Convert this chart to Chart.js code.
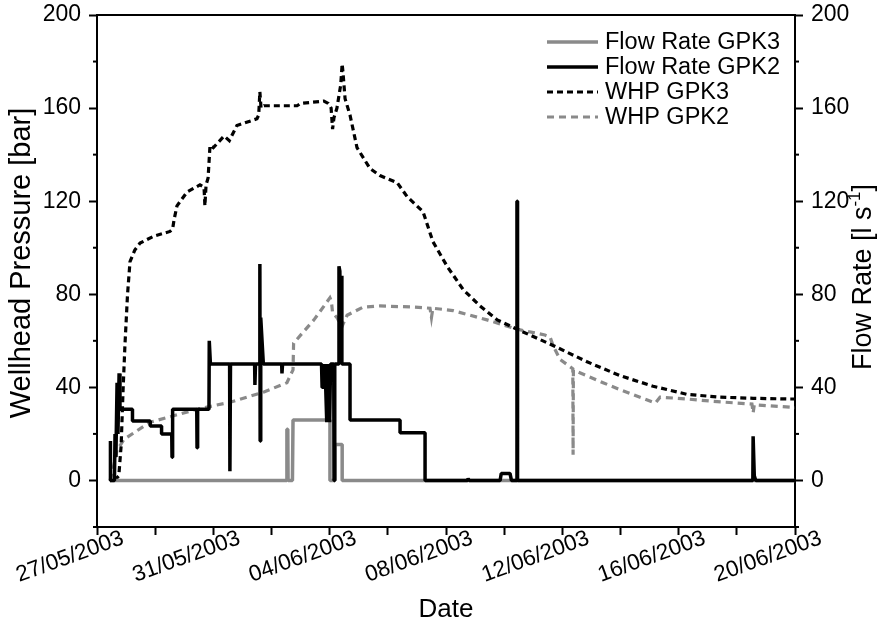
<!DOCTYPE html>
<html><head><meta charset="utf-8">
<script src="https://cdn.jsdelivr.net/npm/chart.js@4.4.1/dist/chart.umd.min.js"></script>
<style>html,body{margin:0;padding:0;background:#fff}#wrap{width:883px;height:630px;position:relative}</style>
</head><body><div id="wrap"><canvas id="c"></canvas></div>
<script>
// x in days since 27/05/2003 00:00
const xTickLabels = ['27/05/2003','31/05/2003','04/06/2003','08/06/2003','12/06/2003','16/06/2003','20/06/2003'];
const yTickValues = [0,40,80,120,160,200];
const legendLabels = ['Flow Rate GPK3','Flow Rate GPK2','WHP GPK3','WHP GPK2'];

const flowGPK3 = [[0.447,0],[6.53,0],[6.53,22],[6.56,22],[6.57,0],[6.72,0],[6.74,26],[8.01,26],[8.01,0],[8.18,0],[8.18,15.5],[8.43,15.5],[8.43,0],[24,0]];

const flowGPK2 = [[0.447,0],[0.447,17],[0.47,17],[0.47,0],[0.60,0],[0.62,20],[0.65,10],[0.69,42],[0.72,20],[0.76,46],[0.79,30.6],
 [1.22,30.6],[1.22,25.5],[1.83,25.5],[1.83,23.4],[2.22,23.4],[2.22,20],[2.57,20],[2.58,10],[2.60,30.6],
 [3.43,30.6],[3.44,14],[3.46,30.6],[3.85,30.6],[3.86,60],[3.88,60],[3.90,50],[4.56,50],[4.57,4],[4.59,50],
 [5.42,50],[5.43,41],[5.45,50],[5.59,50],[5.60,93],[5.61,17],[5.63,70],[5.72,50],[6.35,50],[6.36,46],[6.38,50],
 [7.72,50],[7.74,40],[7.77,50],[7.80,40],[7.84,50],[7.90,25],[7.93,50],[8.00,25],[8.03,50],[8.14,50],[8.15,0],[8.17,0],[8.18,50],
 [8.30,50],[8.32,92],[8.35,90],[8.38,60],[8.40,88],[8.42,50],[8.70,50],[8.70,26],[10.42,26],[10.42,20.5],[11.28,20.5],[11.28,0],
 [12.74,0],[12.76,0.8],[12.80,0],[13.86,0],[13.90,3],[14.20,3],[14.25,0],[14.44,0],[14.44,120],[14.46,120],[14.46,0],
 [22.55,0],[22.56,19],[22.58,19],[22.60,2],[22.65,0],[24,0]];

const whpGPK3 = [[0.60,0],[0.75,2],[0.83,15],[0.90,40],[0.96,58],[1.05,80],[1.135,94],[1.30,99],[1.48,102],[1.96,105],[2.51,107],
 [2.60,108],[2.65,112],[2.75,118],[3.10,124],[3.54,127],[3.68,126],[3.71,118],[3.75,127],[3.82,130],[3.886,144],[4.00,143],
 [4.37,148],[4.55,146],[4.81,152.5],[5.50,155.4],[5.56,157],[5.60,167],[5.64,160],[5.74,161],[6.88,161],[7.00,162],[7.80,163],
 [7.95,162],[8.05,160],[8.10,151],[8.15,156],[8.25,160],[8.38,170],[8.43,179],[8.46,175],[8.53,164],[8.70,157],[8.94,143],
 [9.39,134],[9.73,131],[10.32,128],[10.66,122],[11.21,115.5],[11.55,102.6],[12.04,92],[12.59,82],[13.17,75],[13.76,69],
 [14.44,65],[15.68,58],[16.85,51],[17.99,45],[19.12,40.5],[20.29,37],[21.42,35.8],[22.56,35.3],[23.83,35],[24,35]];

const whpGPK2 = [[0.45,0],[0.55,5],[0.69,13],[0.93,17.7],[1.82,25],[3.44,30.6],[4.57,33.6],[5.74,38],[6.53,42],[6.70,46.5],
 [6.74,47.5],[6.76,59],[7.46,69],[8.01,78.5],[8.06,77],[8.10,72],[8.25,70],[8.42,66],[8.60,71],[9.15,74.5],[9.73,75],
 [10.87,74.5],[11.45,74],[11.50,70],[11.55,74],[12.24,73],[13.41,69],[14.44,65],[15.40,62.5],[15.58,61.6],[15.68,58],
 [15.92,52],[16.36,48],[16.37,11],[16.38,47.5],[17.40,42],[17.99,39],[19.12,33.6],[19.20,33.3],[19.36,35.8],[20.29,35],
 [21.18,34],[22.52,32.8],[22.56,29],[22.60,32.5],[23.83,31.5],[24,31.3]];

const FONT = "'Liberation Sans', Arial, sans-serif";
const GREY = '#8a8a8a';
const toPts = a => a.map(p => ({x: p[0], y: p[1]}));

const extras = {
  id: 'extras',
  afterDraw(chart) {
    const {ctx, chartArea: a, scales} = chart;
    ctx.save();
    ctx.strokeStyle = '#000'; ctx.lineWidth = 2;
    ctx.beginPath(); ctx.moveTo(a.left - 1, a.top); ctx.lineTo(a.right + 1, a.top); ctx.stroke();
    ['y', 'y2'].forEach(id => {
      const s = scales[id];
      s.ticks.forEach(t => {
        if (t.value % 40 !== 0) {
          const py = s.getPixelForValue(t.value);
          ctx.beginPath();
          if (id === 'y') { ctx.moveTo(a.left, py); ctx.lineTo(a.left - 4, py); }
          else { ctx.moveTo(a.right, py); ctx.lineTo(a.right + 4, py); }
          ctx.stroke();
        }
      });
    });
    // right axis title, reading bottom to top, with superscript
    ctx.fillStyle = '#000';
    ctx.translate(861, 277);
    ctx.rotate(-Math.PI / 2);
    const mainF = '27px ' + FONT, supF = '17px ' + FONT;
    ctx.font = mainF; const p1 = 'Flow Rate [l s', p3 = ']';
    const w1 = ctx.measureText(p1).width, w3 = ctx.measureText(p3).width;
    ctx.font = supF; const p2 = '-1'; const w2 = ctx.measureText(p2).width;
    let sx = -(w1 + w2 + w3) / 2; const base = 9.5;
    ctx.textBaseline = 'alphabetic'; ctx.textAlign = 'left';
    ctx.font = mainF; ctx.fillText(p1, sx, base); sx += w1;
    ctx.font = supF; ctx.fillText(p2, sx, base - 11); sx += w2;
    ctx.font = mainF; ctx.fillText(p3, sx, base);
    ctx.setTransform(1, 0, 0, 1, 0, 0);
    // legend
    const rows = [42, 67, 92, 117];
    const order = [1, 0, 2, 3];
    ctx.font = '23.5px ' + FONT; ctx.textBaseline = 'middle';
    order.forEach((di, r) => {
      const ds = chart.data.datasets[di];
      ctx.strokeStyle = ds.borderColor; ctx.lineWidth = ds.borderWidth;
      ctx.setLineDash(ds.borderDash || []);
      ctx.beginPath(); ctx.moveTo(547, rows[r]); ctx.lineTo(598, rows[r]); ctx.stroke();
      ctx.setLineDash([]);
      ctx.fillStyle = '#000';
      ctx.fillText(legendLabels[r], 605, rows[r] + 1);
    });
    ctx.restore();
  }
};

const yAxisCommon = (pos, w) => ({
  type: 'linear', position: pos, min: -20, max: 200,
  afterFit(s) { s.width = w; s.paddingTop = 0; s.paddingBottom = 0; },
  ticks: {stepSize: 20, autoSkip: false, padding: 8, color: '#000', font: {family: FONT, size: 23},
    callback: v => yTickValues.includes(v) ? String(v) : ''},
  grid: {drawOnChartArea: false, drawTicks: true, tickLength: 8, tickWidth: 2,
    tickColor: c => (c.tick && c.tick.value % 40 === 0) ? '#000' : 'rgba(0,0,0,0)'},
  border: {display: true, color: '#000', width: 2}
});

const yLeft = yAxisCommon('left', 97);
yLeft.title = {display: true, text: '  Wellhead Pressure [bar]', color: '#000', font: {family: FONT, size: 29}, padding: {top: 5, bottom: 0}};
const yRight = yAxisCommon('right', 88);

new Chart(document.getElementById('c'), {
  type: 'line',
  data: {
    datasets: [
      {label: 'Flow Rate GPK2', data: toPts(flowGPK2), yAxisID: 'y2', borderColor: '#000', borderWidth: 3.5, pointRadius: 0, tension: 0, borderJoinStyle: 'bevel', fill: false},
      {label: 'Flow Rate GPK3', data: toPts(flowGPK3), yAxisID: 'y2', borderColor: GREY, borderWidth: 3.5, pointRadius: 0, tension: 0, borderJoinStyle: 'bevel', fill: false},
      {label: 'WHP GPK3', data: toPts(whpGPK3), yAxisID: 'y', borderColor: '#000', borderWidth: 3.2, borderDash: [6, 4], pointRadius: 0, tension: 0, fill: false},
      {label: 'WHP GPK2', data: toPts(whpGPK2), yAxisID: 'y', borderColor: GREY, borderWidth: 3.2, borderDash: [7, 5], pointRadius: 0, tension: 0, fill: false}
    ]
  },
  options: {
    responsive: true, maintainAspectRatio: false, animation: false, devicePixelRatio: 1,
    layout: {padding: {top: 15, left: 0, right: 0, bottom: 0}},
    plugins: {legend: {display: false}, tooltip: {enabled: false}},
    events: [],
    scales: {
      x: {
        type: 'linear', min: 0, max: 24,
        afterFit(s) { s.height = 103; s.paddingLeft = 0; s.paddingRight = 0; },
        ticks: {stepSize: 2, autoSkip: false, minRotation: 20, maxRotation: 20, labelOffset: 26, padding: -10,
          color: '#000', font: {family: FONT, size: 22.5},
          callback: v => (v % 4 === 0) ? xTickLabels[v / 4] : ''},
        grid: {drawOnChartArea: false, drawTicks: true, tickLength: 8, tickWidth: 2, tickColor: '#000'},
        border: {display: true, color: '#000', width: 2},
        title: {display: true, text: 'Date', color: '#000', font: {family: FONT, size: 26}, padding: {top: 0, bottom: 5}}
      },
      y: yLeft,
      y2: yRight
    }
  },
  plugins: [extras]
});
</script>
</body></html>
